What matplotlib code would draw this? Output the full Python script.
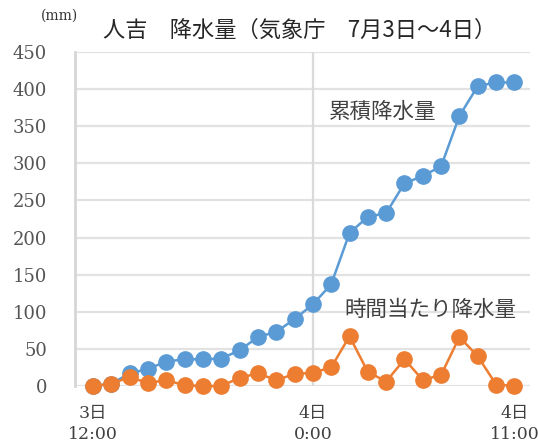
import numpy as np
import matplotlib.pyplot as plt

plt.rcParams['font.family'] = ['DejaVu Serif', 'Noto Sans CJK JP', 'DejaVu Sans']

hours = ['12:00', '13:00', '14:00', '15:00', '16:00', '17:00', '18:00', '19:00',
         '20:00', '21:00', '22:00', '23:00', '0:00', '1:00', '2:00', '3:00',
         '4:00', '5:00', '6:00', '7:00', '8:00', '9:00', '10:00', '11:00']
cumulative = [0, 3, 17, 23, 33, 36, 36, 37, 48, 66, 73, 90, 110, 137, 206, 228,
              233, 273, 283, 296, 364, 404, 409, 409]
hourly = [0, 3, 12, 4, 8, 1, 0, 0, 11, 17, 8, 16, 18, 25, 67, 19,
          6, 36, 8, 15, 66, 40, 2, 0]
tick_pos = [0, 12, 23]
tick_labels = ['3日\n12:00', '4日\n0:00', '4日\n11:00']

blue = '#5B9BD5'
orange = '#ED7D31'
cjk = ['Noto Sans CJK JP', 'DejaVu Sans']

fig = plt.figure(figsize=(5.38, 4.46), dpi=100)
ax = fig.add_axes([75/538, 1-386/446, 455/538, 334/446])

x = np.arange(len(hours))
ax.plot(x, cumulative, '-o', color=blue, lw=1.8, ms=11, zorder=3, clip_on=False)
ax.plot(x, hourly, '-o', color=orange, lw=1.8, ms=11, zorder=3, clip_on=False)

ax.set_xlim(-0.98, 23.85)
ax.set_ylim(0, 450)
ax.set_yticks(range(0, 451, 50))
ax.set_xticks(tick_pos)
ax.set_xticklabels(tick_labels, fontsize=12.5, color='#404040', linespacing=1.25)
ax.tick_params(axis='y', labelsize=13, labelcolor='#555555', length=0, pad=20)
ax.tick_params(axis='x', length=0, pad=14)

ax.grid(axis='y', color='#e2e2e2', lw=1.6)
ax.axvline(12, color='#dadada', lw=1.6, zorder=1)
for s in ['top', 'right', 'bottom']:
    ax.spines[s].set_visible(False)
ax.spines['left'].set_color('#d6d6d6')
ax.spines['left'].set_linewidth(2)
ax.set_axisbelow(True)

ax.text(12.9, 369, '累積降水量', family=cjk, fontsize=15.5, color='#404040', va='center')
ax.text(13.7, 102, '時間当たり降水量', family=cjk, fontsize=15.5, color='#404040', va='center')

fig.text(300/538, 1-30/446, '人吉　降水量（気象庁　7月3日～4日）', family=cjk,
         fontsize=16, ha='center', va='center', color='#262626')
fig.text(59/538, 1-16/446, '(mm)', fontsize=10, ha='center', va='center', color='#333333')

fig.savefig('out.png', dpi=100)
